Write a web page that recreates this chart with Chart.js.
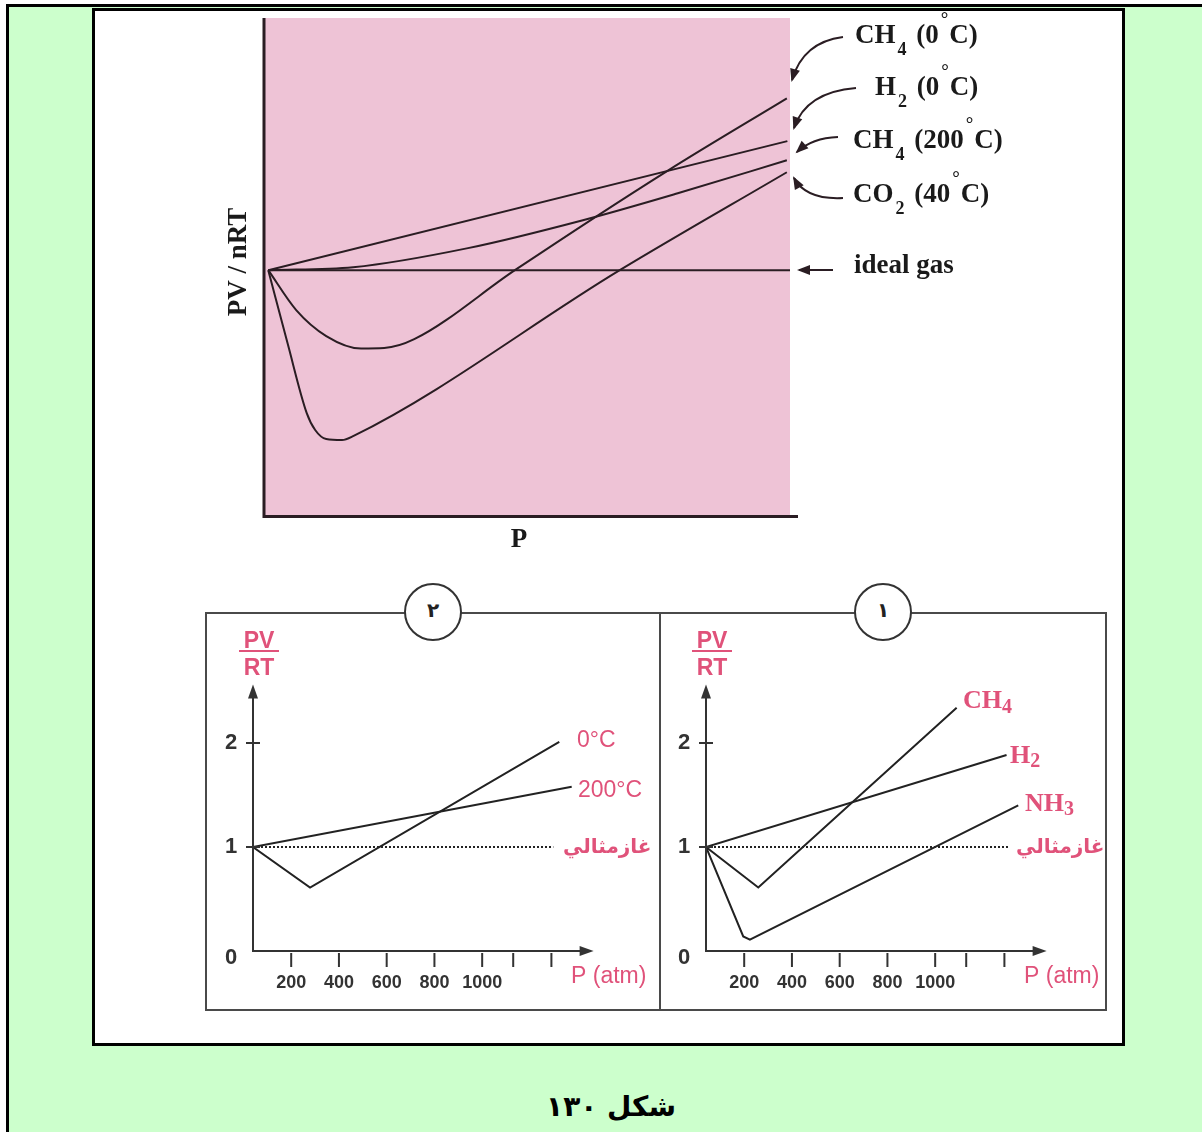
<!DOCTYPE html>
<html>
<head>
<meta charset="utf-8">
<title>PV / nRT</title>
<script src="https://cdn.jsdelivr.net/npm/chart.js@4.4.1/dist/chart.umd.min.js"></script>
<style>
  body { margin: 0; width: 1202px; height: 1132px; overflow: hidden; position: relative; background: #fff; }
  .abs { position: absolute; }
  #page { left: 6px; top: 4px; width: 1300px; height: 1300px; background: #ccffcc; border-left: 3px solid #000; border-top: 3px solid #000; }
  #sheet { left: 92px; top: 8px; width: 1033px; height: 1038px; box-sizing: border-box; border: 3px solid #000; background: #fff; }
  #frame { left: 205px; top: 612px; width: 902px; height: 399px; box-sizing: border-box; border: 2px solid #4a4a4a; }
  #divider { left: 659px; top: 612px; width: 2px; height: 399px; background: #4a4a4a; }
  .badge { width: 58px; height: 58px; box-sizing: border-box; border: 2px solid #333; border-radius: 50%; background: #fff;
           display: flex; align-items: center; justify-content: center; font: bold 20px "DejaVu Sans"; color: #222; }
  .badge span { position: relative; top: -2px; }
  #caption { left: 0; width: 1222px; top: 1090px; text-align: center; font: bold 28px "DejaVu Sans"; direction: rtl; color: #000; }
</style>
</head>
<body>
<div id="page" class="abs"></div>
<div id="sheet" class="abs"></div>
<canvas id="top" class="abs" width="1015" height="560" style="left:100px;top:12px"></canvas>
<div id="frame" class="abs"></div>
<div id="divider" class="abs"></div>
<canvas id="p2" class="abs" width="450" height="394" style="left:208px;top:615px"></canvas>
<canvas id="p1" class="abs" width="443" height="394" style="left:662px;top:615px"></canvas>
<div class="abs badge" style="left:404px;top:583px"><span>٢</span></div>
<div class="abs badge" style="left:854px;top:583px"><span>١</span></div>
<div id="caption" class="abs">شكل ١٣٠</div>

<script>
const PINK = '#eec3d6';
const INK = '#2a1d23';
const RED = '#e0527a';
const AXIS = '#333';

// top figure: P in arbitrary units (0-100), PV/nRT
const idealP = [1, 100];
const idealZ = [1, 1];
const h2ColdP = [1, 99.5];
const h2ColdZ = [1, 1.527];
const ch4HotP = [1, 17.1, 38.9, 60.7, 78.7, 99.4];
const ch4HotZ = [1, 1.012, 1.090, 1.204, 1.314, 1.449];
const ch4ColdP = [1, 6.3, 12.0, 18.6, 23.0, 28.7, 47.8, 76.9, 99.4];
const ch4ColdZ = [1, 0.837, 0.731, 0.680, 0.682, 0.718, 1.0, 1.408, 1.702];
const co2P = [1, 4.7, 8.3, 9.9, 12.0, 15.0, 17.1, 67.7, 99.4];
const co2Z = [1, 0.698, 0.416, 0.347, 0.310, 0.306, 0.322, 1.0, 1.40];

// panel 2 (P in atm)
const cold2P = [40, 279, 1323];
const cold2Z = [1, 0.61, 2.01];
const hot2P = [40, 1375];
const hot2Z = [1, 1.58];
const ideal2P = [40, 1298];
const ideal2Z = [1, 1];

// panel 1 (P in atm)
const ch4P = [40, 259, 1090];
const ch4Z = [1, 0.61, 2.34];
const h2P = [40, 1299];
const h2Z = [1, 1.885];
const nh3P = [40, 196, 224, 1348];
const nh3Z = [1, 0.14, 0.11, 1.40];
const ideal1P = [40, 1306];
const ideal1Z = [1, 1];

const xTickLabels = [200, 400, 600, 800, 1000];
const xTickMarks = [200, 400, 600, 800, 1000, 1130, 1290];
const yTickLabels = [0, 1, 2];
const yTickMarks = [1, 2];

const pts = (xs, ys) => xs.map((x, i) => ({ x: x, y: ys[i] }));

function line(data, extra) {
  return Object.assign({ data: data, borderColor: INK, borderWidth: 2, pointRadius: 0, fill: false, tension: 0 }, extra || {});
}

// draws text pieces one after another on the same baseline (sub/superscripts via dy)
function richText(ctx, x, y, parts) {
  parts.forEach(p => {
    ctx.font = p.font;
    x += p.pre || 0;
    ctx.fillText(p.t, x, y + (p.dy || 0));
    x += ctx.measureText(p.t).width + (p.post || 0);
  });
}

function arrow(ctx, s, c, t) {
  ctx.beginPath();
  ctx.moveTo(s[0], s[1]);
  ctx.quadraticCurveTo(c[0], c[1], t[0], t[1]);
  ctx.stroke();
  const ang = Math.atan2(t[1] - c[1], t[0] - c[0]);
  const L = 11, W = 5;
  ctx.beginPath();
  ctx.moveTo(t[0] + 2 * Math.cos(ang), t[1] + 2 * Math.sin(ang));
  ctx.lineTo(t[0] - L * Math.cos(ang) + W * Math.sin(ang), t[1] - L * Math.sin(ang) - W * Math.cos(ang));
  ctx.lineTo(t[0] - L * Math.cos(ang) - W * Math.sin(ang), t[1] - L * Math.sin(ang) + W * Math.cos(ang));
  ctx.closePath();
  ctx.fill();
}

const SERIF = '"Liberation Serif", "Times New Roman", serif';
const SANS = '"Liberation Sans", Arial, sans-serif';

function gasLabel(name, sub, temp) {
  return [
    { t: name, font: 'bold 27px ' + SERIF },
    { t: sub, font: 'bold 18px ' + SERIF, dy: 12, pre: 2, post: 3 },
    { t: ' (' + temp, font: 'bold 27px ' + SERIF },
    { t: '°', font: 'bold 19px ' + SERIF, dy: -18, pre: 2, post: 1 },
    { t: 'C)', font: 'bold 27px ' + SERIF }
  ];
}

const topDecor = {
  id: 'topDecor',
  beforeDraw(chart) {
    const { ctx, chartArea: a } = chart;
    ctx.save();
    ctx.fillStyle = PINK;
    ctx.fillRect(a.left, a.top, a.right - a.left, a.bottom - a.top);
    ctx.restore();
  },
  afterDatasetsDraw(chart) {
    const { ctx, chartArea: a } = chart;
    const ox = 100, oy = 12; // canvas offset on the page
    const P = (x, y) => [x - ox, y - oy];
    ctx.save();
    ctx.strokeStyle = INK;
    ctx.fillStyle = INK;
    ctx.lineWidth = 3;
    ctx.beginPath();
    ctx.moveTo(a.left + 1, a.top);
    ctx.lineTo(a.left + 1, a.bottom + 1.5);
    ctx.lineTo(a.right + 8, a.bottom + 1.5);
    ctx.stroke();

    ctx.lineWidth = 2;
    arrow(ctx, P(843, 37), P(803, 42), P(792, 80));
    arrow(ctx, P(856, 88), P(806, 92), P(794, 128));
    arrow(ctx, P(838, 137), P(812, 138), P(797, 152));
    arrow(ctx, P(843, 198), P(806, 200), P(794, 178));
    arrow(ctx, P(833, 270), P(815, 270), P(799, 270));

    ctx.fillStyle = '#1a1a1a';
    ctx.textBaseline = 'alphabetic';
    ctx.textAlign = 'left';
    richText(ctx, ...P(855, 43), gasLabel('CH', '4', '0'));
    richText(ctx, ...P(875, 95), gasLabel('H', '2', '0'));
    richText(ctx, ...P(853, 148), gasLabel('CH', '4', '200'));
    richText(ctx, ...P(853, 202), gasLabel('CO', '2', '40'));
    richText(ctx, ...P(854, 273), [{ t: 'ideal gas', font: 'bold 27px ' + SERIF }]);

    ctx.font = 'bold 27px ' + SERIF;
    ctx.textAlign = 'center';
    ctx.fillText('P', ...P(519, 547));
    ctx.translate(...P(246, 262));
    ctx.rotate(-Math.PI / 2);
    ctx.fillText('PV / nRT', 0, 0);
    ctx.restore();
  }
};

const panelDecor = {
  id: 'panelDecor',
  afterDatasetsDraw(chart, args, opts) {
    const { ctx, chartArea: a, scales: { x, y } } = chart;
    ctx.save();
    ctx.strokeStyle = AXIS;
    ctx.fillStyle = AXIS;
    ctx.lineWidth = 2;
    ctx.beginPath();
    ctx.moveTo(a.left, a.top + 10);
    ctx.lineTo(a.left, a.bottom);
    ctx.lineTo(a.right - 6, a.bottom);
    ctx.stroke();
    // arrow heads
    ctx.beginPath();
    ctx.moveTo(a.left, a.top + 4);
    ctx.lineTo(a.left - 5, a.top + 18);
    ctx.lineTo(a.left + 5, a.top + 18);
    ctx.closePath();
    ctx.fill();
    ctx.beginPath();
    ctx.moveTo(a.right + 4, a.bottom);
    ctx.lineTo(a.right - 10, a.bottom - 5);
    ctx.lineTo(a.right - 10, a.bottom + 5);
    ctx.closePath();
    ctx.fill();

    ctx.beginPath();
    yTickMarks.forEach(v => {
      const py = y.getPixelForValue(v);
      ctx.moveTo(a.left - 7, py);
      ctx.lineTo(a.left + 7, py);
    });
    xTickMarks.forEach(v => {
      const px = x.getPixelForValue(v);
      ctx.moveTo(px, a.bottom + 2);
      ctx.lineTo(px, a.bottom + 16);
    });
    ctx.stroke();

    ctx.fillStyle = '#333';
    ctx.textAlign = 'center';
    ctx.textBaseline = 'middle';
    ctx.font = 'bold 22px ' + SANS;
    yTickLabels.forEach(v => {
      ctx.fillText(String(v), a.left - 22, y.getPixelForValue(v) + (v === 0 ? 7 : 0));
    });
    ctx.font = 'bold 18px ' + SANS;
    xTickLabels.forEach(v => {
      ctx.fillText(String(v), x.getPixelForValue(v), a.bottom + 32);
    });

    // PV / RT fraction
    ctx.fillStyle = RED;
    ctx.strokeStyle = RED;
    ctx.textBaseline = 'alphabetic';
    ctx.font = 'bold 23px ' + SANS;
    ctx.fillText('PV', a.left + 6, a.top - 33);
    ctx.fillText('RT', a.left + 6, a.top - 6);
    ctx.beginPath();
    ctx.moveTo(a.left - 14, a.top - 29.5);
    ctx.lineTo(a.left + 26, a.top - 29.5);
    ctx.stroke();

    ctx.textAlign = 'left';
    ctx.font = '23px ' + SANS;
    ctx.fillText('P (atm)', a.left + 318, a.bottom + 32);
    ctx.font = 'bold 20px "DejaVu Sans"';
    ctx.textBaseline = 'middle';
    ctx.fillText('غازمثالي', a.left + 310, y.getPixelForValue(1) + 1);

    ctx.textBaseline = 'alphabetic';
    (opts.labels || []).forEach(l => richText(ctx, a.left + l.dx, y.getPixelForValue(l.v), l.parts));
    ctx.restore();
  }
};

function panelOptions(padLeft, padRight, labels) {
  return {
    responsive: false,
    animation: false,
    layout: { padding: { left: padLeft, right: padRight, top: 65.6, bottom: 58 } },
    scales: {
      x: { type: 'linear', min: 40, max: 1450, display: false },
      y: { type: 'linear', min: 0, max: 2.6, display: false }
    },
    plugins: { legend: { display: false }, tooltip: { enabled: false }, panelDecor: { labels: labels } }
  };
}

new Chart(document.getElementById('top'), {
  type: 'line',
  data: {
    datasets: [
      line(pts(idealP, idealZ)),
      line(pts(h2ColdP, h2ColdZ)),
      line(pts(ch4HotP, ch4HotZ), { cubicInterpolationMode: 'monotone' }),
      line(pts(ch4ColdP, ch4ColdZ), { cubicInterpolationMode: 'monotone' }),
      line(pts(co2P, co2Z), { cubicInterpolationMode: 'monotone' })
    ]
  },
  options: {
    responsive: false,
    animation: false,
    layout: { padding: { left: 163, top: 6, right: 325, bottom: 57 } },
    scales: {
      x: { type: 'linear', min: 0, max: 100, display: false },
      y: { type: 'linear', min: 0, max: 2.03, display: false }
    },
    plugins: { legend: { display: false }, tooltip: { enabled: false } }
  },
  plugins: [topDecor]
});

const thin = { borderColor: '#222' };
const dotted = { borderColor: '#222', borderDash: [2, 2] };

new Chart(document.getElementById('p2'), {
  type: 'line',
  data: {
    datasets: [
      line(pts(ideal2P, ideal2Z), dotted),
      line(pts(hot2P, hot2Z), thin),
      line(pts(cold2P, cold2Z), thin)
    ]
  },
  options: panelOptions(45, 68.4, [
    { dx: 324, v: 2.01 - 0.05, parts: [{ t: '0°C', font: '23px ' + SANS }] },
    { dx: 325, v: 1.58 - 0.1, parts: [{ t: '200°C', font: '23px ' + SANS }] }
  ]),
  plugins: [panelDecor]
});

new Chart(document.getElementById('p1'), {
  type: 'line',
  data: {
    datasets: [
      line(pts(ideal1P, ideal1Z), dotted),
      line(pts(h2P, h2Z), thin),
      line(pts(ch4P, ch4Z), thin),
      line(pts(nh3P, nh3Z), thin)
    ]
  },
  options: panelOptions(44, 62.4, [
    { dx: 257, v: 2.34, parts: [{ t: 'CH', font: 'bold 26px ' + SERIF }, { t: '4', font: 'bold 20px ' + SERIF, dy: 5 }] },
    { dx: 304, v: 1.885 - 0.08, parts: [{ t: 'H', font: 'bold 26px ' + SERIF }, { t: '2', font: 'bold 20px ' + SERIF, dy: 4 }] },
    { dx: 319, v: 1.35, parts: [{ t: 'NH', font: 'bold 26px ' + SERIF }, { t: '3', font: 'bold 20px ' + SERIF, dy: 4 }] }
  ]),
  plugins: [panelDecor]
});
</script>
</body>
</html>
